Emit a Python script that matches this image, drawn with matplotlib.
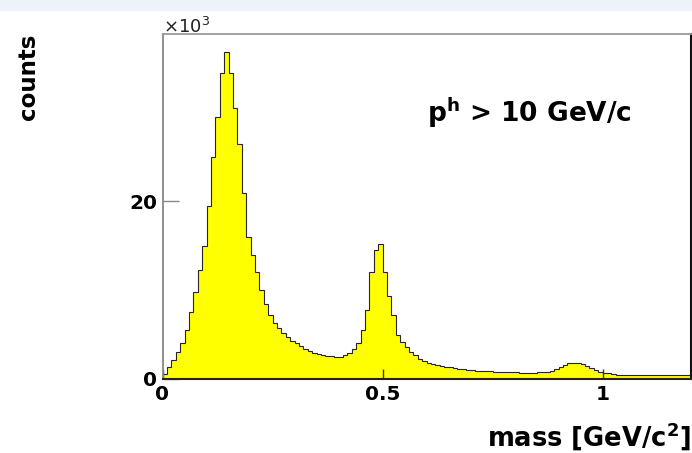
import numpy as np
import matplotlib
matplotlib.use("Agg")
import matplotlib.pyplot as plt
from matplotlib.patches import Rectangle

# Histogram: bin edges 0..1.2 GeV/c^2, width 0.01; counts in units of 10^3
bin_width = 0.01
x_min, x_max = 0.0, 1.2
counts_k = [
    0.6, 1.3, 2.1, 3.0, 4.1, 5.5, 7.5, 9.8, 12.3, 15.0,
    19.5, 25.0, 29.5, 34.5, 36.8, 34.5, 30.5, 26.5, 21.0, 16.0,
    14.0, 12.0, 10.0, 8.4, 7.2, 6.3, 5.7, 5.2, 4.7, 4.3,
    4.0, 3.75, 3.4, 3.1, 2.95, 2.8, 2.75, 2.6, 2.55, 2.5,
    2.5, 2.65, 2.9, 3.4, 4.0, 5.5, 7.8, 12.0, 14.5, 15.2,
    12.0, 9.3, 7.2, 5.0, 4.2, 3.6, 3.0, 2.65, 2.3, 2.05,
    1.85, 1.7, 1.55, 1.45, 1.4, 1.35, 1.25, 1.15, 1.1, 1.04,
    1.0, 0.95, 0.9, 0.88, 0.85, 0.8, 0.8, 0.78, 0.76, 0.75,
    0.74, 0.73, 0.73, 0.72, 0.73, 0.75, 0.78, 0.83, 0.9, 1.1,
    1.35, 1.55, 1.75, 1.8, 1.75, 1.65, 1.45, 1.26, 1.05, 0.8,
    0.7, 0.62, 0.58, 0.5, 0.47, 0.47, 0.48, 0.47, 0.46, 0.47,
    0.47, 0.48, 0.47, 0.47, 0.46, 0.47, 0.47, 0.47, 0.47, 0.47,
]
x_ticks = [0, 0.5, 1]
x_tick_labels = ["0", "0.5", "1"]
y_ticks = [0, 20]
y_tick_labels = ["0", "20"]
y_max = 38.87

edges = np.round(np.arange(len(counts_k) + 1) * bin_width, 4)

W, H = 692, 453
fig = plt.figure(figsize=(W / 100, H / 100), dpi=100)
fig.patch.set_facecolor("white")
# light band at the top
fig.patches.append(Rectangle((0, 1 - 11 / H), 1, 11 / H, transform=fig.transFigure,
                             facecolor="#eef3f9", edgecolor="none", zorder=0))

ax = fig.add_axes([162.5 / W, (H - 379) / H, (690.5 - 162.5) / W, (379 - 34) / H])
ax.stairs(counts_k, edges, fill=True, facecolor="#ffff00", edgecolor="none", zorder=1)
ax.stairs(counts_k, edges, fill=False, color="#262626", linewidth=0.8, baseline=None, zorder=2)

ax.set_xlim(x_min, x_max)
ax.set_ylim(0, y_max)

bold = dict(fontfamily="DejaVu Sans", fontweight="bold")
ax.set_xticks(x_ticks)
ax.set_xticklabels(x_tick_labels, fontsize=14.4, **bold)
ax.set_yticks(y_ticks)
ax.set_yticklabels(y_tick_labels, fontsize=14.4, **bold)
ax.tick_params(axis="x", direction="in", length=7, width=1.0, color="#333333", pad=4.5)
ax.tick_params(axis="y", direction="in", length=11.5, width=1.0, color="#888888", pad=4)
ax.minorticks_off()

ax.spines["left"].set_color("#888888")
ax.spines["top"].set_color("#999999")
ax.spines["right"].set_color("#111111")
ax.spines["bottom"].set_color("#222222")
for s in ["left", "top"]:
    ax.spines[s].set_linewidth(1.3)
for s in ["right", "bottom"]:
    ax.spines[s].set_linewidth(1.5)

fig.text(163 / W, (H - 33) / H, r"$\times$10$^{3}$", fontsize=13, ha="left", va="baseline",
         fontfamily="DejaVu Sans", color="#222222")
fig.text(28 / W, (H - 77) / H, "counts", rotation=90, fontsize=16.5, ha="center", va="center", **bold)
fig.text(690.5 / W, (H - 446.7) / H, r"mass [GeV/c$^{\mathbf{2}}$]", fontsize=18.5,
         ha="right", va="baseline", **bold)
fig.text(529 / W, (H - 121.7) / H, r"p$^{\mathbf{h}}$ > 10 GeV/c", fontsize=19,
         ha="center", va="baseline", **bold)

fig.savefig("out.png", dpi=100)
